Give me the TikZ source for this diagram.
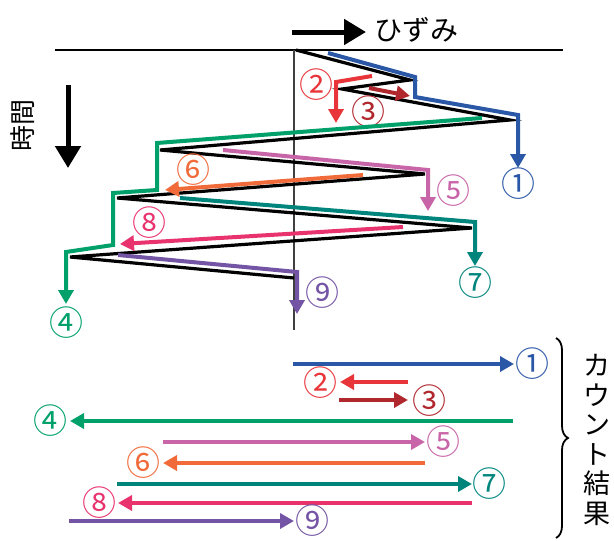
\documentclass[tikz,border=0pt]{standalone}
\usepackage{fontspec}
\newfontfamily\jp{Noto Sans CJK JP}
\usetikzlibrary{arrows.meta,decorations.pathreplacing}
\definecolor{cblue}{HTML}{2B57A7}
\definecolor{cred}{HTML}{E8353A}
\definecolor{cdred}{HTML}{B0282E}
\definecolor{cgreen}{HTML}{00A06B}
\definecolor{cpink}{HTML}{C865A8}
\definecolor{corange}{HTML}{F06A3A}
\definecolor{cteal}{HTML}{00857D}
\definecolor{cpred}{HTML}{E8336E}
\definecolor{cpurple}{HTML}{7454A4}
\begin{document}
\begin{tikzpicture}[x=1pt,y=-1pt,
  cl/.style={line width=4pt,-{Triangle[length=14pt,width=15pt]}},
  zig/.style={line width=3.2pt,black,line join=miter},
  num/.style={font=\jp\fontsize{34}{34}\selectfont,inner sep=0pt},
  bigarrow/.style={line width=5pt,-{Triangle[length=22pt,width=25pt]}}]
\useasboundingbox (0,0) rectangle (614,541);
% axes
\coordinate (h0) at (55,50); \coordinate (h1) at (563,50);
\coordinate (v0) at (294,50); \coordinate (v1) at (294,330);
\draw[line width=1.8pt] (h0) -- (h1);
\draw[line width=1.3pt,black!75] (v0) -- (v1);
% strain arrow and label
\coordinate (sa0) at (292,32); \coordinate (sa1) at (366,32);
\draw[bigarrow] (sa0) -- (sa1);
\node[font=\jp\fontsize{28}{28}\selectfont,anchor=west,inner sep=0pt] (hiz) at (374,30) {ひずみ};
% time arrow and label
\coordinate (ta0) at (68,85); \coordinate (ta1) at (68,168);
\draw[bigarrow] (ta0) -- (ta1);
\node[font=\jp\fontsize{26}{26}\selectfont,rotate=90,inner sep=0pt] (jikan) at (23,125) {時間};
% zigzag
\coordinate (z0) at (296,50);
\coordinate (z1) at (410,80);
\coordinate (z2) at (342,89);
\coordinate (z3) at (510,120);
\coordinate (z4) at (160,150);
\coordinate (z5) at (425,174);
\coordinate (z6) at (117,198);
\coordinate (z7) at (472,228);
\coordinate (z8) at (70,257);
\coordinate (z9) at (294,278);
\draw[zig] (z0) -- (z1) -- (z2) -- (z3) -- (z4) -- (z5) -- (z6) -- (z7) -- (z8) -- (z9);
% 1 blue
\draw[cl,cblue] (328,53) -- (415,77) -- (415,97) -- (518,115) -- (518,168);
\node[num,cblue] (n1) at (518,184) {①};
% 2 red
\draw[cl,cred] (372,76) -- (336,82) -- (336,123);
\node[num,cred] (n2) at (316,85) {②};
% 3 dark red
\draw[cl,cdred] (369,88) -- (410,96);
\node[num,cdred] (n3) at (368,112) {③};
% 4 green
\draw[cl,cgreen] (482,118) -- (157,143) -- (157,190) -- (113,193) -- (113,245) -- (66,252) -- (66,304);
\node[num,cgreen] (n4) at (66,323) {④};
% 5 pink
\draw[cl,cpink] (223,150) -- (428,170) -- (428,211);
\node[num,cpink] (n5) at (453,191) {⑤};
% 6 orange
\draw[cl,corange] (363,175) -- (165,190);
\node[num,corange] (n6) at (193,170) {⑥};
% 7 teal
\draw[cl,cteal] (180,198) -- (475,222) -- (475,266);
\node[num,cteal] (n7) at (475,283) {⑦};
% 8 pink-red
\draw[cl,cpred] (403,227) -- (120,244);
\node[num,cpred] (n8) at (149,223) {⑧};
% 9 purple
\draw[cl,cpurple] (118,255) -- (297,272) -- (297,314);
\node[num,cpurple] (n9) at (322,293) {⑨};
% bottom count results
\node[num,cblue] (m1) at (532,364) {①};
\draw[cl,cblue] (293,364) -- (514,364);
\node[num,cred] (m2) at (320,383) {②};
\draw[cl,cred] (408,382) -- (340,382);
\node[num,cdred] (m3) at (429,401) {③};
\draw[cl,cdred] (339,400) -- (408,400);
\node[num,cgreen] (m4) at (51,421) {④};
\draw[cl,cgreen] (513,421) -- (70,421);
\node[num,cpink] (m5) at (443,442) {⑤};
\draw[cl,cpink] (163,442) -- (425,442);
\node[num,corange] (m6) at (143,463) {⑥};
\draw[cl,corange] (425,463) -- (163,463);
\node[num,cteal] (m7) at (489,484) {⑦};
\draw[cl,cteal] (117,484) -- (472,484);
\node[num,cpred] (m8) at (99,503) {⑧};
\draw[cl,cpred] (472,503) -- (118,503);
\node[num,cpurple] (m9) at (312,521) {⑨};
\draw[cl,cpurple] (69,521) -- (294,521);
% brace and label
\coordinate (br0) at (556,338); \coordinate (br1) at (556,538);
\draw[line width=1.8pt,decorate,decoration={brace,amplitude=12pt}] (br0) -- (br1);
\node[font=\jp\fontsize{27}{29.5}\selectfont,align=center,inner sep=0pt] (count) at (597,440) {カ\\ウ\\ン\\ト\\結\\果};
\end{tikzpicture}
\end{document}
